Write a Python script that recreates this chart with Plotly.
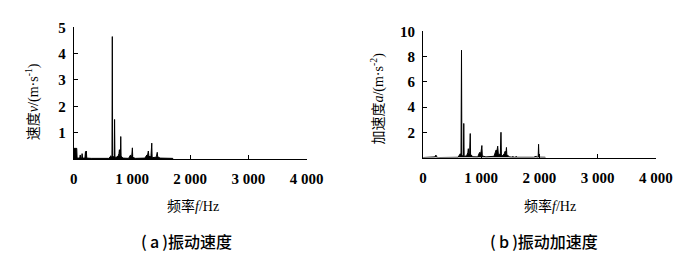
import plotly.graph_objects as go

# Velocity spectrum (Hz, m/s)
vel_freq = [0, 50, 56, 100, 110, 118, 135, 142, 150, 190, 200, 208, 215, 222, 300, 600, 625, 635, 645, 655,
            661, 667, 680, 695, 700, 706, 720, 740, 760, 775, 783, 790, 800, 806, 812, 825, 840, 940, 960, 975,
            985, 995, 1006, 1012, 1030, 1060, 1220, 1240, 1255, 1265, 1280, 1290, 1310, 1325, 1339, 1345, 1360,
            1400, 1420, 1433, 1440, 1460, 1480, 1700, 1705]
vel_amp = [0.40, 0.40, 0.03, 0.03, 0.15, 0.03, 0.03, 0.20, 0.03, 0.03, 0.28, 0.05, 0.30, 0.03, 0.02, 0.02, 0.08, 0.12, 0.06, 0.10,
           4.65, 0.12, 0.08, 0.10, 1.50, 0.10, 0.05, 0.08, 0.10, 0.20, 0.35, 0.15, 0.10, 0.85, 0.10, 0.08, 0.03, 0.02, 0.08, 0.15,
           0.10, 0.12, 0.42, 0.08, 0.04, 0.02, 0.03, 0.10, 0.15, 0.12, 0.30, 0.10, 0.08, 0.10, 0.60, 0.08, 0.05,
           0.06, 0.10, 0.25, 0.08, 0.06, 0.03, 0.02, 0.0]

# Acceleration spectrum (Hz, m/s^2)
acc_freq = [0, 150, 200, 215, 222, 230, 260, 600, 625, 640, 652, 661, 667, 680, 694, 700, 706, 720, 750, 770,
            778, 786, 800, 811, 817, 830, 850, 940, 955, 970, 985, 998, 1011, 1018, 1040, 1080, 1220, 1240, 1255,
            1268, 1283, 1295, 1315, 1328, 1339, 1346, 1370, 1395, 1411, 1425, 1433, 1440, 1460, 1490, 1540, 1544,
            1550, 1595, 1600, 1606, 1900, 1945, 1952, 1978, 1985, 1992, 2100, 2105]
acc_amp = [0.0, 0.0, 0.05, 0.15, 0.20, 0.05, 0.0, 0.02, 0.15, 0.30, 0.20, 8.5, 0.20, 0.15, 0.20, 2.7, 0.15, 0.10, 0.15, 0.40,
           0.70, 0.30, 0.30, 1.90, 0.20, 0.20, 0.06, 0.05, 0.20, 0.40, 0.30, 0.50, 0.95, 0.15, 0.10, 0.05, 0.10, 0.40, 0.60,
           0.50, 0.90, 0.20, 0.30, 0.30, 2.0, 0.20, 0.15, 0.30, 0.50, 0.40, 0.80, 0.20, 0.15, 0.05, 0.02, 0.10,
           0.02, 0.02, 0.10, 0.02, 0.02, 0.10, 0.03, 0.03, 1.05, 0.03, 0.02, 0.0]

x_tickvals = [0, 1000, 2000, 3000, 4000]
x_ticktext = ["0", "1 000", "2 000", "3 000", "4 000"]
vel_ticks = [1, 2, 3, 4, 5]
acc_ticks = [2, 4, 6, 8, 10]

W, H = 700, 259
serif = "Liberation Serif, Noto Sans CJK SC"
cjk = "Noto Sans CJK SC"

fig = go.Figure()
fig.add_trace(go.Scatter(x=vel_freq, y=vel_amp, mode="lines", line=dict(color="black", width=1),
                         fill="tozeroy", fillcolor="black", xaxis="x", yaxis="y", showlegend=False))
fig.add_trace(go.Scatter(x=acc_freq, y=acc_amp, mode="lines", line=dict(color="black", width=1),
                         fill="tozeroy", fillcolor="black", xaxis="x2", yaxis="y2", showlegend=False))

def xax(domain, anchor):
    return dict(domain=domain, anchor=anchor, range=[0, 4000], tickvals=x_tickvals, ticktext=x_ticktext,
                showline=True, linecolor="black", linewidth=1, ticks="inside", ticklen=4, tickcolor="black",
                showgrid=False, zeroline=False, tickfont=dict(family=serif, size=15, color="black", weight="bold"),
                ticklabelstandoff=6)

def yax(domain, anchor, rng, tv):
    return dict(domain=domain, anchor=anchor, range=rng, tickvals=tv,
                showline=True, linecolor="black", linewidth=1, ticks="inside", ticklen=4, tickcolor="black",
                showgrid=False, zeroline=False, tickfont=dict(family=serif, size=15, color="black", weight="bold"),
                ticklabelstandoff=4)

fig.update_layout(
    width=W, height=H, margin=dict(l=0, r=0, t=0, b=0),
    paper_bgcolor="white", plot_bgcolor="white",
    xaxis=xax([72 / W, 312 / W], "y"),
    yaxis=yax([(H - 155.7) / H, (H - 20) / H], "x", [0, 5], vel_ticks),
    xaxis2=xax([432 / W, 672 / W], "y2"),
    yaxis2=yax([(H - 154.3) / H, (H - 24) / H], "x2", [0, 10], acc_ticks),
    annotations=[
        dict(text="速度<i>v</i>/(m·s<sup>-1</sup>)", x=29 / W, y=1 - 97 / H, xref="paper", yref="paper",
             textangle=-90, showarrow=False, font=dict(family=serif, size=14, color="black"),
             xanchor="center", yanchor="middle"),
        dict(text="加速度<i>a</i>/(m·s<sup>-2</sup>)", x=385 / W, y=1 - 93 / H, xref="paper", yref="paper",
             textangle=-90, showarrow=False, font=dict(family=serif, size=14, color="black"),
             xanchor="center", yanchor="middle"),
        dict(text="频率<i>f</i>/Hz", x=195 / W, y=1 - 204 / H, xref="paper", yref="paper",
             showarrow=False, font=dict(family=serif, size=14, color="black"),
             xanchor="center", yanchor="middle"),
        dict(text="频率<i>f</i>/Hz", x=563 / W, y=1 - 204 / H, xref="paper", yref="paper",
             showarrow=False, font=dict(family=serif, size=14, color="black"),
             xanchor="center", yanchor="middle"),
        dict(text="(\u2009a\u2009)振动速度", x=188 / W, y=1 - 240 / H, xref="paper", yref="paper",
             showarrow=False, font=dict(family=cjk, size=16, color="black", weight=500),
             xanchor="center", yanchor="middle"),
        dict(text="(\u2009b\u2009)振动加速度", x=557 / W, y=1 - 240 / H, xref="paper", yref="paper",
             showarrow=False, font=dict(family=cjk, size=16, color="black", weight=500),
             xanchor="center", yanchor="middle"),
    ],
)

fig.write_html("out.html")
